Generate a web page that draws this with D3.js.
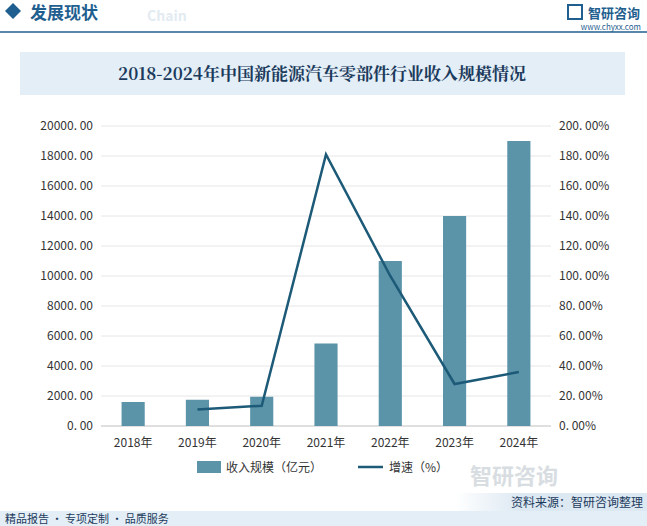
<!DOCTYPE html>
<html><head><meta charset="utf-8">
<script src="https://cdn.jsdelivr.net/npm/d3@7"></script>
<style>body{margin:0;background:#fff}svg{display:block;font-family:"Noto Sans CJK SC","Noto Sans",sans-serif}</style>
</head><body><svg id="c" width="647" height="526"></svg>
<script>
const years=["2018年","2019年","2020年","2021年","2022年","2023年","2024年"];
const revenue=[1600,1750,1950,5500,11000,14000,19000];
const growth=[null,11,13.5,181,100,28,36];
const leftTicks=[0,2000,4000,6000,8000,10000,12000,14000,16000,18000,20000];
const rightTicks=[0,20,40,60,80,100,120,140,160,180,200];

const svg=d3.select("#c");
svg.append("path").attr("d","M13,3 L21,11 L13,19 L5,11Z").attr("fill","#1f5f8f");
svg.append("text").attr("x",30).attr("y",19).text("发展现状").attr("font-size",17).attr("font-weight","bold").attr("fill","#1f5f8f");
svg.append("text").attr("x",147).attr("y",21).text("Chain").attr("font-size",14).attr("font-weight","bold").attr("fill","#e3ebf2");
svg.append("line").attr("x1",0).attr("x2",647).attr("y1",32).attr("y2",32).attr("stroke","#1f5f8f").attr("stroke-width",1.5);
svg.append("rect").attr("x",568).attr("y",5).attr("width",14).attr("height",14).attr("fill","none").attr("stroke","#1f5f8f").attr("stroke-width",2);
svg.append("text").attr("x",588).attr("y",18).text("智研咨询").attr("font-size",13).attr("font-weight","bold").attr("fill","#1f5f8f");
svg.append("text").attr("x",641).attr("y",30).attr("text-anchor","end").text("www.chyxx.com").attr("font-size",8).attr("fill","#1f5f8f");
svg.append("rect").attr("x",20).attr("y",52).attr("width",605).attr("height",43).attr("fill","#e3eef6");
svg.append("text").attr("x",322).attr("y",80).attr("text-anchor","middle").text("2018-2024年中国新能源汽车零部件行业收入规模情况").attr("font-size",17).attr("font-weight","bold").attr("fill","#1b3a5c").attr("font-family","Noto Serif CJK SC,Noto Sans CJK SC,serif");

const x=d3.scaleBand().domain(years).range([101,551]).paddingInner(0.64).paddingOuter(0.32);
const yL=d3.scaleLinear().domain([0,20000]).range([426,126]);
const yR=d3.scaleLinear().domain([0,200]).range([426,126]);
svg.append("g").selectAll("line").data(leftTicks).join("line").attr("x1",101).attr("x2",551).attr("y1",d=>yL(d)).attr("y2",d=>yL(d)).attr("stroke","#e6e6e6");
svg.append("line").attr("x1",101).attr("x2",551).attr("y1",426).attr("y2",426).attr("stroke","#ccc");
const gl=svg.append("g").attr("transform","translate(101,0)").call(d3.axisLeft(yL).tickValues(leftTicks).tickFormat(d=>d3.format(".2f")(d).replace(".",". ")).tickSize(0).tickPadding(8));
const gr=svg.append("g").attr("transform","translate(551,0)").call(d3.axisRight(yR).tickValues(rightTicks).tickFormat(d=>d3.format(".2f")(d).replace(".",". ")+"%").tickSize(0).tickPadding(8));
const gx=svg.append("g").attr("transform","translate(0,426)").call(d3.axisBottom(x).tickSize(0).tickPadding(12));
[gl,gr,gx].forEach(g=>{g.select(".domain").remove();g.selectAll("text").attr("font-size",12).attr("fill","#333").attr("font-family","Noto Sans CJK SC,sans-serif");});
svg.append("g").selectAll("rect").data(revenue).join("rect").attr("x",(d,i)=>x(years[i])).attr("width",x.bandwidth()).attr("y",d=>yL(d)).attr("height",d=>426-yL(d)).attr("fill","#5b93a8");
const pts=growth.map((g,i)=>[x(years[i])+x.bandwidth()/2,g]).filter(p=>p[1]!=null);
svg.append("path").attr("d",d3.line().x(p=>p[0]).y(p=>yR(p[1]))(pts)).attr("fill","none").attr("stroke","#1c5a78").attr("stroke-width",2.5);
svg.append("rect").attr("x",197).attr("y",461).attr("width",24).attr("height",12).attr("fill","#5b93a8");
svg.append("text").attr("x",226).attr("y",472).text("收入规模（亿元）").attr("font-size",12).attr("fill","#333");
svg.append("line").attr("x1",358).attr("x2",383).attr("y1",467).attr("y2",467).attr("stroke","#1c5a78").attr("stroke-width",2.5);
svg.append("text").attr("x",389).attr("y",472).text("增速（%）").attr("font-size",12).attr("fill","#333");
svg.append("text").attr("x",470).attr("y",484).text("智研咨询").attr("font-size",22).attr("font-weight","bold").attr("fill","#d8dde2");
const grad=svg.append("defs").append("linearGradient").attr("id","g1");
grad.append("stop").attr("offset","0").attr("stop-color","#fff");
grad.append("stop").attr("offset","0.35").attr("stop-color","#dce8f2");
svg.append("rect").attr("x",455).attr("y",493).attr("width",192).attr("height",18).attr("fill","url(#g1)");
svg.append("text").attr("x",643).attr("y",507).attr("text-anchor","end").text("资料来源：智研咨询整理").attr("font-size",12).attr("fill","#1b3a5c");
svg.append("rect").attr("x",0).attr("y",511).attr("width",647).attr("height",15).attr("fill","#e3eef6");
svg.append("text").attr("x",5).attr("y",523).text("精品报告 · 专项定制 · 品质服务").attr("font-size",11).attr("fill","#1b3a5c");
</script></body></html>
